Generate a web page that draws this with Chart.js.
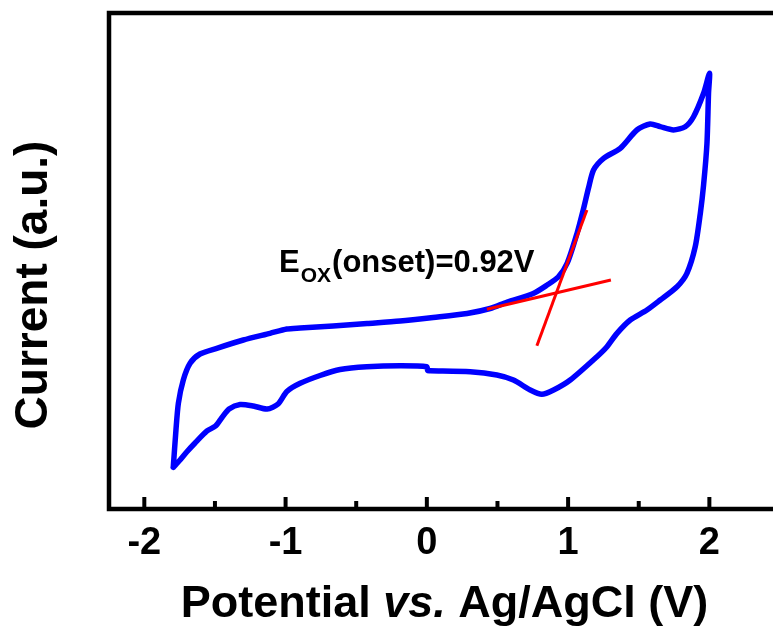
<!DOCTYPE html>
<html>
<head>
<meta charset="utf-8">
<script src="https://cdn.jsdelivr.net/npm/chart.js@4.4.1/dist/chart.umd.min.js"></script>
<style>
html,body{margin:0;padding:0;overflow:hidden;background:#fff;width:773px;height:632px;}
canvas{display:block;}
</style>
</head>
<body>
<canvas id="c" width="800" height="632"></canvas>
<script>
// ---- data ----
const potential = [
 -1.795,-1.776,-1.759,-1.724,-1.676,-1.606,-1.487,-1.299,-1.110,-0.991,-0.897,-0.664,-0.423,-0.189,
 0.045,0.285,0.448,0.569,0.753,0.852,0.930,0.994,1.064,1.107,1.144,1.180,1.251,1.369,1.487,1.581,
 1.652,1.746,1.829,1.888,1.959,2.001,
 1.994,1.983,1.959,1.936,1.900,1.841,1.771,1.652,1.558,1.440,1.346,1.275,1.204,1.015,0.897,0.814,
 0.732,0.613,0.496,0.307,0.023,0.006,-0.001,-0.189,-0.425,-0.614,-0.756,-0.897,-0.991,-1.053,-1.131,
 -1.228,-1.322,-1.400,-1.450,-1.496,-1.556,-1.641,-1.700,-1.747,-1.795
];
const current = [
 8.41,15.93,21.31,26.01,29.38,31.25,32.40,34.07,35.42,36.29,36.49,36.90,37.40,37.90,
 38.61,39.42,40.42,41.73,43.45,45.16,46.77,49.60,55.65,60.28,64.66,68.35,70.71,72.72,76.41,77.62,
 77.08,76.41,77.08,79.09,83.81,87.84,
 83.81,73.73,65.32,59.62,52.88,47.52,44.82,42.14,40.12,38.10,35.42,32.72,30.71,26.01,23.99,23.12,
 23.99,26.01,27.02,27.68,27.88,27.92,28.69,28.89,28.69,28.13,26.92,25.34,23.69,21.17,20.16,
 20.77,21.07,20.16,18.45,16.73,15.73,13.31,11.49,9.88,8.41
];
const tangentBaseX = [0.425, 1.303];
const tangentBaseY = [40.26, 46.17];
const tangentRiseX = [0.779, 1.133];
const tangentRiseY = [32.92, 60.28];
const tickValues = [-2, -1, 0, 1, 2];
const onsetLabel = {main: 'E', sub: 'OX', rest: '(onset)=0.92V', x: -1.046, y: 47.8};
const xTitle = ['Potential ', 'vs.', ' Ag/AgCl (V)'];
const yTitle = 'Current (a.u.)';

const FONT = '"Liberation Sans", Arial, Helvetica, sans-serif';
const toPts = (xs, ys) => xs.map((x, i) => ({x, y: ys[i]}));

const decor = {
  id: 'decor',
  afterDraw(chart) {
    const {ctx, chartArea: a, scales: {x, y}} = chart;
    ctx.save();
    // frame
    ctx.strokeStyle = '#000';
    ctx.lineWidth = 4.5;
    ctx.lineJoin = 'miter';
    ctx.strokeRect(a.left, a.top, a.right - a.left, a.bottom - a.top);
    // inward ticks
    ctx.lineWidth = 4;
    ctx.lineCap = 'butt';
    const vals = x.ticks.map(t => t.value);
    vals.forEach((v, i) => {
      const px = x.getPixelForValue(v);
      ctx.beginPath(); ctx.moveTo(px, a.bottom); ctx.lineTo(px, a.bottom - 12); ctx.stroke();
      if (i < vals.length - 1) {
        const mx = x.getPixelForValue((v + vals[i + 1]) / 2);
        ctx.beginPath(); ctx.moveTo(mx, a.bottom); ctx.lineTo(mx, a.bottom - 8); ctx.stroke();
      }
    });
    ctx.fillStyle = '#000';
    // onset label
    let lx = x.getPixelForValue(onsetLabel.x);
    const ly = y.getPixelForValue(onsetLabel.y);
    ctx.textBaseline = 'alphabetic';
    ctx.textAlign = 'left';
    ctx.font = 'bold 31px ' + FONT;
    ctx.fillText(onsetLabel.main, lx, ly);
    lx += ctx.measureText(onsetLabel.main).width;
    ctx.font = 'bold 21px ' + FONT;
    ctx.fillText(onsetLabel.sub, lx + 1, ly + 10);
    lx += ctx.measureText(onsetLabel.sub).width + 2;
    ctx.font = 'bold 31px ' + FONT;
    ctx.fillText(onsetLabel.rest, lx, ly);
    // x title
    const fNorm = 'bold 45px ' + FONT, fIt = 'italic bold 45px ' + FONT;
    const fonts = [fNorm, fIt, fNorm];
    let total = 0;
    xTitle.forEach((s, i) => { ctx.font = fonts[i]; total += ctx.measureText(s).width; });
    let tx = (a.left + a.right) / 2 - total / 2;
    xTitle.forEach((s, i) => { ctx.font = fonts[i]; ctx.fillText(s, tx, 617); tx += ctx.measureText(s).width; });
    // y title
    ctx.save();
    ctx.translate(47, 285);
    ctx.rotate(-Math.PI / 2);
    ctx.textAlign = 'center';
    ctx.font = 'bold 46px ' + FONT;
    ctx.fillText(yTitle, 0, 0);
    ctx.restore();
    ctx.restore();
  }
};

new Chart(document.getElementById('c'), {
  type: 'scatter',
  data: {
    datasets: [
      {data: toPts(potential, current), showLine: true, borderColor: '#0000ff', borderWidth: 5.5,
       pointRadius: 0, tension: 0.25, borderJoinStyle: 'round', borderCapStyle: 'round', order: 2},
      {data: toPts(tangentBaseX, tangentBaseY), showLine: true, borderColor: '#ff0000', borderWidth: 3,
       pointRadius: 0, tension: 0, order: 1},
      {data: toPts(tangentRiseX, tangentRiseY), showLine: true, borderColor: '#ff0000', borderWidth: 3,
       pointRadius: 0, tension: 0, order: 1}
    ]
  },
  options: {
    responsive: false,
    animation: false,
    devicePixelRatio: 1,
    layout: {padding: {left: 109, top: 13, right: 20, bottom: 0}},
    plugins: {legend: {display: false}, tooltip: {enabled: false}},
    scales: {
      x: {
        type: 'linear', min: -2.25, max: 2.5, position: 'bottom',
        grid: {display: false, drawTicks: false}, border: {display: false},
        ticks: {color: '#000', padding: 12, font: {family: FONT, size: 38, weight: 'bold'}},
        afterBuildTicks: s => { s.ticks = tickValues.map(v => ({value: v})); },
        afterFit: s => { s.height = 123; }
      },
      y: {type: 'linear', min: 0, max: 100, display: false}
    }
  },
  plugins: [decor]
});
</script>
</body>
</html>
